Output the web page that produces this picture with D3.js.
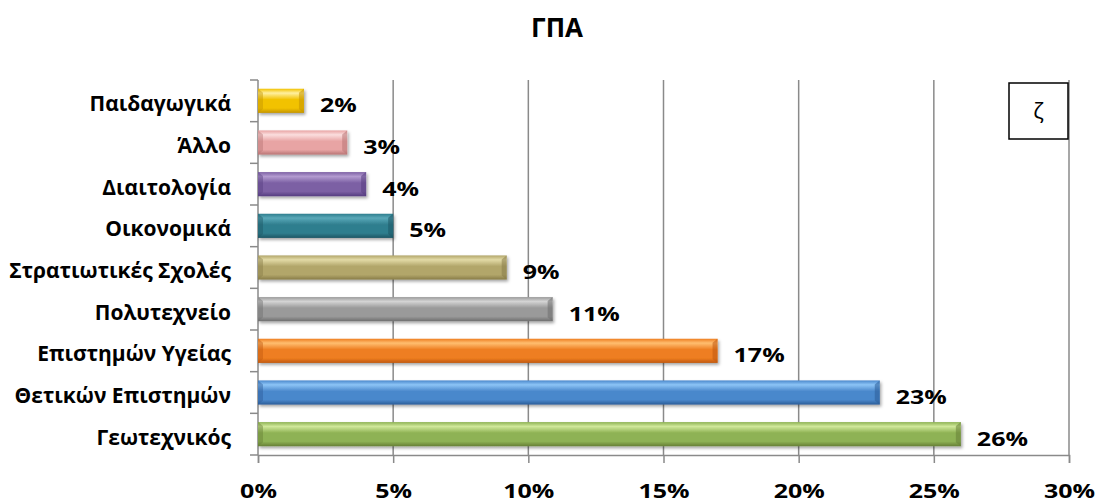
<!DOCTYPE html>
<html><head><meta charset="utf-8">
<script src="https://cdn.jsdelivr.net/npm/d3@7"></script>
<style>
html,body{margin:0;padding:0;background:#fff;}
svg{display:block;}
text{font-family:"Open Sans","Noto Sans","DejaVu Sans",sans-serif;}
</style></head>
<body>
<svg id="c" width="1097" height="503"></svg>
<script>
const title = "ΓΠΑ";
const categories = ["Παιδαγωγικά","Άλλο","Διαιτολογία","Οικονομικά","Στρατιωτικές Σχολές","Πολυτεχνείο","Επιστημών Υγείας","Θετικών Επιστημών","Γεωτεχνικός"];
const values = [0.017,0.033,0.040,0.050,0.092,0.109,0.170,0.230,0.260];
const valueLabels = ["2%","3%","4%","5%","9%","11%","17%","23%","26%"];
const xTicks = [0,0.05,0.10,0.15,0.20,0.25,0.30];
const colors = [
  ["#fff0a0","#f2c200","#c49400"],
  ["#fbdede","#e8a4a4","#b87474"],
  ["#b39bd0","#7c60a4","#563d80"],
  ["#5aa8b8","#2f7e8e","#1d5664"],
  ["#e2daa6","#b2a66a","#887c48"],
  ["#d4d4d4","#9a9a9a","#6e6e6e"],
  ["#ffbe70","#ee7e20","#c05810"],
  ["#8cc4f6","#4a88cc","#2c5c98"],
  ["#d0e89a","#8eb254","#667f36"]
];
const boxLabel = "ζ";

const svg = d3.select("#c");
const m = {left:258, right:1069, top:80, bottom:455};
const x = d3.scaleLinear().domain([0,0.30]).range([m.left,m.right]);
const y = d3.scaleBand().domain(categories).range([m.top,m.bottom]).paddingInner(0.42).paddingOuter(0.21);
const SX = 1.25;

const defs = svg.append("defs");
colors.forEach((c,i)=>{
  const g = defs.append("linearGradient").attr("id","g"+i).attr("x1",0).attr("y1",0).attr("x2",0).attr("y2",1);
  g.append("stop").attr("offset","0%").attr("stop-color",c[1]);
  g.append("stop").attr("offset","18%").attr("stop-color",c[0]);
  g.append("stop").attr("offset","45%").attr("stop-color",c[1]);
  g.append("stop").attr("offset","80%").attr("stop-color",c[1]);
  g.append("stop").attr("offset","100%").attr("stop-color",c[2]);
});
const f = defs.append("filter").attr("id","sh").attr("x","-5%").attr("y","-30%").attr("width","115%").attr("height","170%");
f.append("feDropShadow").attr("dx",1.5).attr("dy",2).attr("stdDeviation",1.5).attr("flood-color","#000").attr("flood-opacity",0.35);

// title
svg.append("text").attr("x",557).attr("y",37).attr("text-anchor","middle")
  .attr("font-size",26).attr("font-weight","bold").text(title);

// gridlines
svg.append("g").selectAll("line").data(xTicks.slice(1)).join("line")
  .attr("x1",d=>x(d)).attr("x2",d=>x(d)).attr("y1",m.top).attr("y2",m.bottom)
  .attr("stroke","#8a8a8a").attr("stroke-width",1.5);

// bottom axis
const xa = svg.append("g").attr("transform",`translate(0,${m.bottom})`)
  .call(d3.axisBottom(x).tickValues(xTicks).tickFormat(d3.format(".0%")).tickSize(8).tickPadding(22));
xa.select(".domain").attr("stroke","#8a8a8a").attr("stroke-width",1.5);
xa.selectAll(".tick line").attr("stroke","#8a8a8a").attr("stroke-width",1.5);
xa.selectAll(".tick text").attr("font-size",20).attr("font-weight","bold").attr("fill","#000")
  .attr("font-family","'Open Sans','Noto Sans',sans-serif")
  .attr("y",null).attr("dy",null)
  .attr("transform",`translate(0,42.5) scale(${SX},1)`);

// left axis line and ticks at band boundaries
const step = y.step();
const bounds = d3.range(categories.length+1).map(i=>m.top + i*step);
svg.append("line").attr("x1",m.left).attr("x2",m.left).attr("y1",m.top).attr("y2",m.bottom)
  .attr("stroke","#8a8a8a").attr("stroke-width",1.5);
svg.append("g").selectAll("line").data(bounds).join("line")
  .attr("x1",m.left-8).attr("x2",m.left).attr("y1",d=>d).attr("y2",d=>d)
  .attr("stroke","#8a8a8a").attr("stroke-width",1.5);

// category labels
svg.append("g").selectAll("text").data(categories).join("text")
  .attr("x",231).attr("y",d=>y(d)+y.bandwidth()/2+10.5)
  .attr("text-anchor","end").attr("font-size",21).attr("font-weight","bold").text(d=>d);

// bars
const bars = svg.append("g").selectAll("g").data(values).join("g");
bars.append("rect")
  .attr("x",x(0)).attr("y",(d,i)=>y(categories[i]))
  .attr("width",d=>x(d)-x(0)).attr("height",y.bandwidth())
  .attr("fill",(d,i)=>`url(#g${i})`).attr("filter","url(#sh)");
// bevel ends
bars.append("path")
  .attr("d",(d,i)=>{const y0=y(categories[i]),h=y.bandwidth(),x1=x(d);
    return `M${x1},${y0}L${x1-5},${y0+4}L${x1-5},${y0+h-4}L${x1},${y0+h}Z`;})
  .attr("fill",(d,i)=>colors[i][2]).attr("opacity",0.55);
bars.append("path")
  .attr("d",(d,i)=>{const y0=y(categories[i]),h=y.bandwidth(),x0=x(0);
    return `M${x0},${y0}L${x0+5},${y0+4}L${x0+5},${y0+h-4}L${x0},${y0+h}Z`;})
  .attr("fill",(d,i)=>colors[i][2]).attr("opacity",0.45);

// value labels
svg.append("g").selectAll("text").data(values).join("text")
  .attr("transform",(d,i)=>`translate(${x(d)+16},${y(categories[i])+y.bandwidth()/2+11.5}) scale(${SX},1)`)
  .attr("font-size",20).attr("font-weight","bold").text((d,i)=>valueLabels[i]);

// box
svg.append("rect").attr("x",1009).attr("y",83).attr("width",59).attr("height",56)
  .attr("fill","#fff").attr("stroke","#000").attr("stroke-width",1.5);
svg.append("text").attr("x",1038.5).attr("y",111).attr("dy","0.36em").attr("text-anchor","middle")
  .attr("font-size",22).attr("font-family","Calibri,'Liberation Sans',sans-serif").text(boxLabel);
</script>
</body></html>
